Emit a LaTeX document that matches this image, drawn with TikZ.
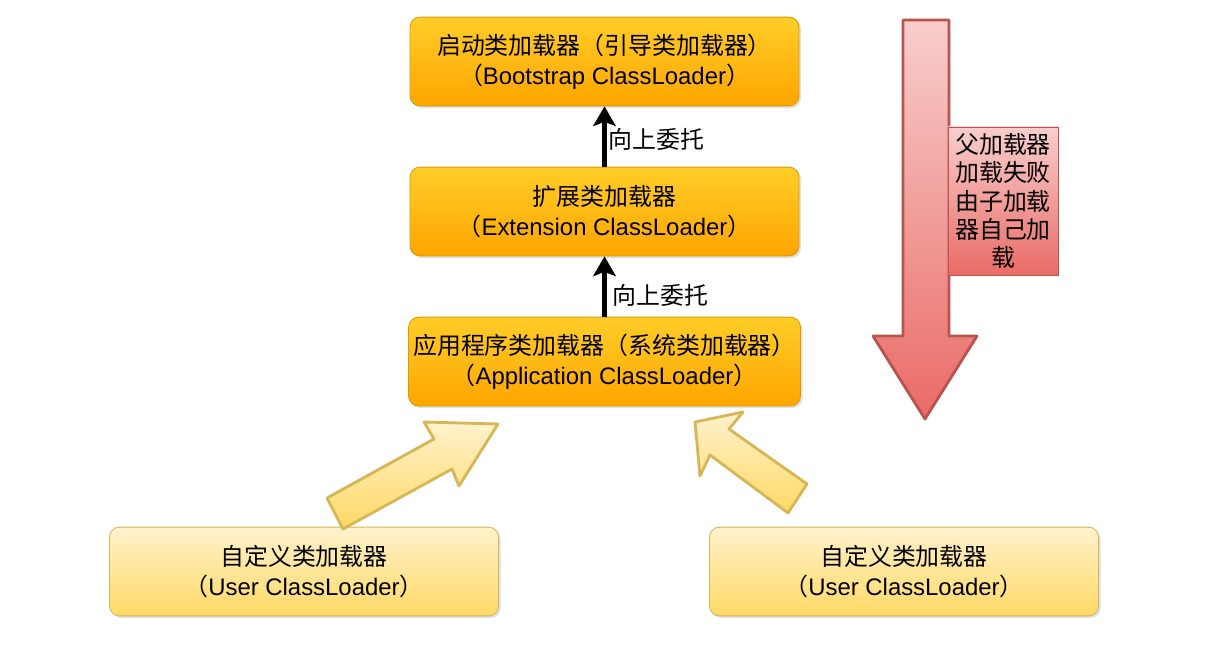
\documentclass[tikz,border=0pt]{standalone}
\usepackage{fontspec}
\setmainfont{Liberation Sans}
\newfontfamily\cjk{Noto Sans CJK SC}
\usetikzlibrary{positioning,arrows.meta,shadows}
\definecolor{orangetop}{HTML}{FFCD28}
\definecolor{orangebot}{HTML}{FFA500}
\definecolor{orangeline}{HTML}{D79B00}
\definecolor{yellowtop}{HTML}{FFF2CC}
\definecolor{yellowbot}{HTML}{FFD966}
\definecolor{yellowline}{HTML}{D6B656}
\definecolor{redtop}{HTML}{F8CECC}
\definecolor{redbot}{HTML}{EA6B66}
\definecolor{redline}{HTML}{B85450}
\tikzset{
  loader/.style={draw=orangeline,rounded corners=0.25cm,top color=orangetop,bottom color=orangebot,
    minimum width=9.72cm,minimum height=2.22cm,align=center,line width=0.6pt,
    drop shadow={opacity=0.25,shadow xshift=1.5pt,shadow yshift=-1.5pt}},
  userloader/.style={loader,draw=yellowline,top color=yellowtop,bottom color=yellowbot},
  bigarrow/.style={line width=2pt,line join=round},
  delegate/.style={-{Stealth[length=14pt,width=16pt,inset=3pt]},line width=3pt},
}
\begin{document}
\begin{tikzpicture}[x=0.025cm,y=0.025cm,node distance=3.75cm,
    every node/.style={font=\fontsize{17}{21.3}\selectfont}]
    \useasboundingbox (0,0) rectangle (1214,-656);
    \node (boot) [loader] at (604.5,-61.5) {{\cjk 启动类加载器（引导类加载器）}\\{\cjk （}Bootstrap ClassLoader{\cjk ）}};
    \node (ext) [loader,below of=boot] {{\cjk 扩展类加载器}\\{\cjk （}Extension ClassLoader{\cjk ）}};
    \node (app) [loader,below of=ext] {{\cjk 应用程序类加载器（系统类加载器）}\\{\cjk （}Application ClassLoader{\cjk ）}};
    \node (user1) [userloader] at (304,-571.5) {{\cjk 自定义类加载器}\\{\cjk （}User ClassLoader{\cjk ）}};
    \node (user2) [userloader] at (904,-571.5) {{\cjk 自定义类加载器}\\{\cjk （}User ClassLoader{\cjk ）}};
    % delegation upwards
    \draw [delegate] (ext.north) -- (boot.south) node [midway,right,xshift=-2pt,yshift=-2pt] {\cjk 向上委托};
    \draw [delegate] (app.north) -- (ext.south) node [midway,right,xshift=1pt,yshift=-6pt] {\cjk 向上委托};
    % parent fails, child loads
    \draw [bigarrow,draw=redline,top color=redtop,bottom color=redbot]
      (903,-20) -- (949,-20) -- (949,-336) -- (977,-336) -- (925,-419) -- (873,-336) -- (903,-336) -- cycle;
    \node (fail) [draw=redline,top color=redtop,bottom color=redbot,minimum width=2.75cm,minimum height=3.7cm,
      inner sep=1pt,align=center,font=\fontsize{17}{20}\selectfont\cjk] at (1003,-201) {父加载器\\加载失败\\由子加载\\器自己加\\载};
    % custom loaders
    \draw [bigarrow,draw=yellowline,top color=yellowtop,bottom color=yellowbot]
      (327,-498) -- (434,-439) -- (424,-422) -- (498,-424) -- (459,-486) -- (452,-469) -- (343,-529) -- cycle;
    \draw [bigarrow,draw=yellowline,top color=yellowtop,bottom color=yellowbot]
      (695,-422) -- (743,-412) -- (729,-429) -- (807,-484) -- (788,-513) -- (710,-455) -- (700,-476) -- cycle;
\end{tikzpicture}
\end{document}
